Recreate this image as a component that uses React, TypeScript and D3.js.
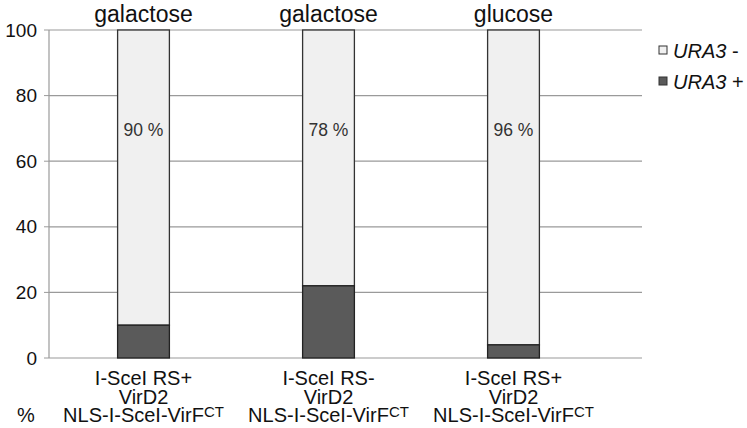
import { useEffect, useRef } from "react"
import * as d3 from "d3"

const categories = ["c1", "c2", "c3"]
const titles = ["galactose", "galactose", "glucose"]
const labelLines = [
  ["I-SceI RS+", "VirD2", "NLS-I-SceI-VirF"],
  ["I-SceI RS-", "VirD2", "NLS-I-SceI-VirF"],
  ["I-SceI RS+", "VirD2", "NLS-I-SceI-VirF"],
]
const ura3Plus = [10, 22, 4]
const ura3Minus = [90, 78, 96]
const pctLabels = ["90 %", "78 %", "96 %"]
const yTicks = [0, 20, 40, 60, 80, 100]
const seriesNames = ["URA3 -", "URA3 +"]

const FONT = "'Liberation Sans', Arial, sans-serif"

export default function App() {
  const svgRef = useRef<SVGSVGElement>(null)

  useEffect(() => {
    if (!svgRef.current) return
    const svg = d3.select(svgRef.current)
    svg.selectAll("*").remove()

    const left = 49
    const right = 642
    const top = 30
    const bottom = 358

    const x = d3.scaleBand().domain(categories).range([51, 606]).paddingInner(0.72).paddingOuter(0.36)
    const y = d3.scaleLinear().domain([0, 100]).range([bottom, top])

    // gridlines
    svg.append("g")
      .selectAll("line")
      .data(yTicks)
      .join("line")
      .attr("x1", left)
      .attr("x2", right)
      .attr("y1", (d) => y(d))
      .attr("y2", (d) => y(d))
      .attr("stroke", "#9a9a9a")
      .attr("stroke-width", 1.2)

    // y axis line
    svg.append("line")
      .attr("x1", left)
      .attr("x2", left)
      .attr("y1", top)
      .attr("y2", bottom)
      .attr("stroke", "#9a9a9a")
      .attr("stroke-width", 1.2)

    svg.append("g")
      .selectAll("line")
      .data(yTicks)
      .join("line")
      .attr("x1", left - 5)
      .attr("x2", left)
      .attr("y1", (d) => y(d))
      .attr("y2", (d) => y(d))
      .attr("stroke", "#9a9a9a")

    svg.append("g")
      .selectAll("text")
      .data(yTicks)
      .join("text")
      .attr("x", 37)
      .attr("y", (d) => y(d))
      .attr("dy", "0.35em")
      .attr("text-anchor", "end")
      .attr("font-family", FONT)
      .attr("font-size", 19)
      .attr("fill", "#111")
      .text((d) => d)

    const data = categories.map((c, i) => ({ c, plus: ura3Plus[i], minus: ura3Minus[i] }))

    // URA3 - (top) segment
    svg.append("g")
      .selectAll("rect")
      .data(data)
      .join("rect")
      .attr("x", (d) => x(d.c)!)
      .attr("width", x.bandwidth())
      .attr("y", (d) => y(d.plus + d.minus))
      .attr("height", (d) => y(d.plus) - y(d.plus + d.minus))
      .attr("fill", "#f0f0f0")
      .attr("stroke", "#333")
      .attr("stroke-width", 1.3)

    // URA3 + (bottom) segment
    svg.append("g")
      .selectAll("rect")
      .data(data)
      .join("rect")
      .attr("x", (d) => x(d.c)!)
      .attr("width", x.bandwidth())
      .attr("y", (d) => y(d.plus))
      .attr("height", (d) => y(0) - y(d.plus))
      .attr("fill", "#5a5a5a")
      .attr("stroke", "#222")
      .attr("stroke-width", 1.3)

    // percent labels
    svg.append("g")
      .selectAll("text")
      .data(data)
      .join("text")
      .attr("x", (d) => x(d.c)! + x.bandwidth() / 2)
      .attr("y", y(69.5))
      .attr("dy", "0.35em")
      .attr("text-anchor", "middle")
      .attr("font-family", FONT)
      .attr("font-size", 17.5)
      .attr("fill", "#333")
      .text((_, i) => pctLabels[i])

    // titles above bars
    svg.append("g")
      .selectAll("text")
      .data(data)
      .join("text")
      .attr("x", (d) => x(d.c)! + x.bandwidth() / 2)
      .attr("y", 22)
      .attr("text-anchor", "middle")
      .attr("font-family", FONT)
      .attr("font-size", 23)
      .attr("fill", "#111")
      .text((_, i) => titles[i])

    // category labels
    const catG = svg.append("g")
    data.forEach((d, i) => {
      const cx = x(d.c)! + x.bandwidth() / 2
      labelLines[i].forEach((line, j) => {
        const t = catG.append("text")
          .attr("x", cx)
          .attr("y", 385 + j * 18.5)
          .attr("text-anchor", "middle")
          .attr("font-family", FONT)
          .attr("font-size", 20)
          .attr("fill", "#111")
        t.append("tspan").text(line)
        if (j === 2) {
          t.append("tspan").attr("font-size", 15).attr("dy", -5).text("CT")
        }
      })
    })

    svg.append("text")
      .attr("x", 26)
      .attr("y", 422)
      .attr("text-anchor", "middle")
      .attr("font-family", FONT)
      .attr("font-size", 20)
      .attr("fill", "#111")
      .text("%")

    // legend
    const legendFills = ["#f0f0f0", "#5a5a5a"]
    const lg = svg.append("g")
    seriesNames.forEach((name, i) => {
      const cy = 50 + i * 31
      lg.append("rect")
        .attr("x", 659)
        .attr("y", cy - 4)
        .attr("width", 8)
        .attr("height", 8)
        .attr("fill", legendFills[i])
        .attr("stroke", "#333")
      const t = lg.append("text")
        .attr("x", 673)
        .attr("y", cy + 1)
        .attr("dy", "0.35em")
        .attr("font-family", FONT)
        .attr("font-size", 20)
        .attr("fill", "#111")
      t.append("tspan").attr("font-style", "italic").text("URA3")
      t.append("tspan").text(name.slice(4))
    })
  }, [])

  return (
    <svg
      ref={svgRef}
      width={747}
      height={428}
      style={{ position: "absolute", left: 0, top: 0, background: "#fff" }}
    />
  )
}
